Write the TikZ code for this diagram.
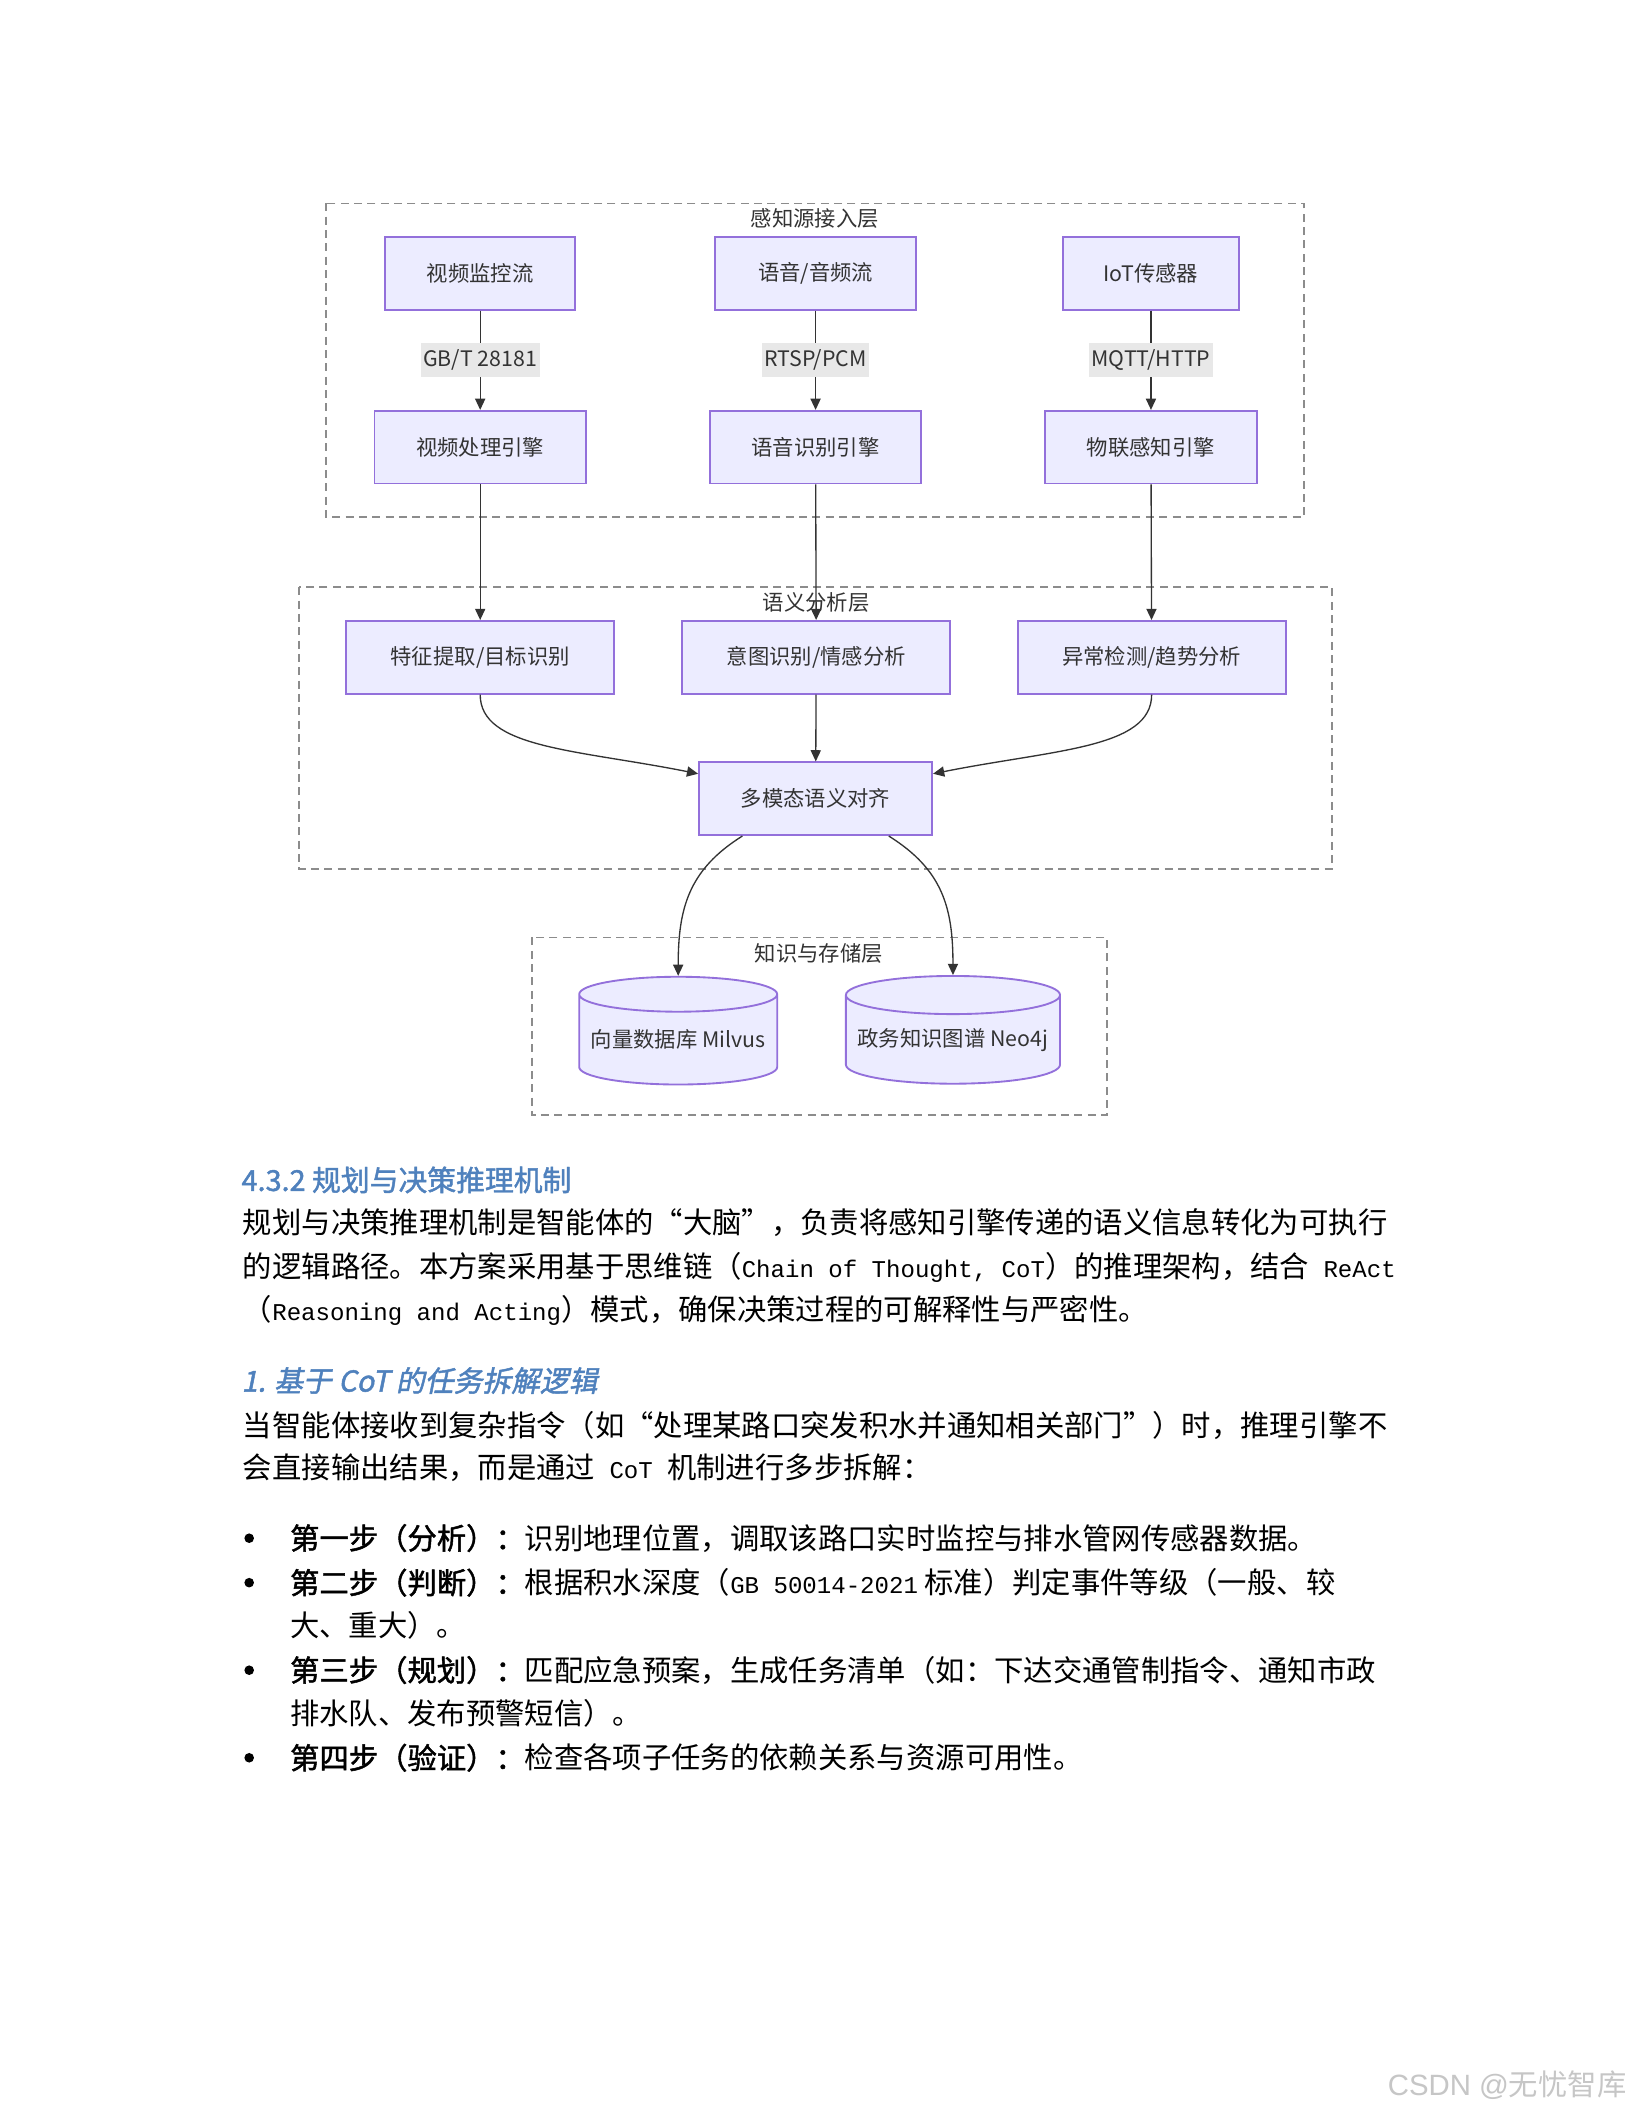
\documentclass[tikz,border=0pt]{standalone}
\usepackage{fontspec}
\setmainfont{Noto Sans CJK SC}
\newfontfamily\latfont{Liberation Mono}[Scale=0.82]
\newfontfamily\headfont{Noto Sans CJK SC}[FakeBold=1.6]
\newfontfamily\headitfont{Noto Sans CJK SC}[FakeBold=1.6,FakeSlant=0.2]
\newfontfamily\wmfont{Liberation Sans}
\usetikzlibrary{arrows.meta,shapes.geometric}
\definecolor{boxFill}{HTML}{ECECFF}
\definecolor{boxDraw}{HTML}{9370DB}
\definecolor{lineGray}{HTML}{333333}
\definecolor{layerGray}{HTML}{8C8C8C}
\definecolor{labelFill}{HTML}{E8E8E8}
\definecolor{headBlue}{HTML}{4F81BD}
\newcommand{\lat}[1]{{\latfont #1}}
\newdimen\px
\px=0.50495pt

\begin{document}
\begin{tikzpicture}[x = \px, y = -\px]
\tikzstyle{boxStyle}=[draw = boxDraw, fill = boxFill, line width = 0.7pt, minimum height = 54\px, inner sep = 0pt, text = lineGray, font = \fontsize{8}{10}\selectfont]
\tikzstyle{dbStyle}=[cylinder, shape border rotate = 90, aspect = 0.2, draw = boxDraw, fill = boxFill, line width = 0.7pt, inner sep = 0pt, text = lineGray, font = \fontsize{8}{10}\selectfont]
\tikzstyle{layerStyle}=[draw = layerGray, dash pattern = on 3pt off 2pt, line width = 0.6pt]
\tikzstyle{titleStyle}=[inner sep = 0pt, text = lineGray, font = \fontsize{8}{10}\selectfont]
\tikzstyle{labelStyle}=[fill = labelFill, inner sep = 1pt, minimum height = 25\px, text = lineGray, font = \fontsize{8}{10}\selectfont]
\tikzstyle{flowStyle}=[draw = lineGray, line width = 0.5pt, -{Triangle[length = 4.2pt, width = 3.8pt]}]
\tikzstyle{bodyStyle}=[anchor = west, inner sep = 0pt, font = \fontsize{11}{13}\selectfont]
\tikzstyle{headStyle}=[anchor = west, inner sep = 0pt, text = headBlue]
\tikzstyle{dotStyle}=[circle, fill = black, inner sep = 0pt, minimum size = 3.6pt]
\fill[white] (0,0) rectangle (1212,1568);
\useasboundingbox (0,0) rectangle (1212,1568);
% layers
\draw[layerStyle] (242,151) rectangle (968,384);
\draw[layerStyle] (222,436) rectangle (989,645);
\draw[layerStyle] (395,696) rectangle (822,828);
\node[titleStyle] (t1) at (605,162) {感知源接入层};
\node[titleStyle] (t2) at (606,447) {语义分析层};
\node[titleStyle] (t3) at (608,708) {知识与存储层};
% nodes
\node[boxStyle, minimum width = 141\px] (s1) at (356.5,203) {视频监控流};
\node[boxStyle, minimum width = 149\px] (s2) at (605.5,203) {语音/音频流};
\node[boxStyle, minimum width = 131\px] (s3) at (854.5,203) {IoT传感器};
\node[boxStyle, minimum width = 157\px] (e1) at (356.5,332) {视频处理引擎};
\node[boxStyle, minimum width = 157\px] (e2) at (605.5,332) {语音识别引擎};
\node[boxStyle, minimum width = 157\px] (e3) at (854.5,332) {物联感知引擎};
\node[boxStyle, minimum width = 199\px] (a1) at (356.5,488) {特征提取/目标识别};
\node[boxStyle, minimum width = 199\px] (a2) at (606,488) {意图识别/情感分析};
\node[boxStyle, minimum width = 199\px] (a3) at (855,488) {异常检测/趋势分析};
\node[boxStyle, minimum width = 173\px] (m) at (605.5,593) {多模态语义对齐};
\node[dbStyle, minimum width = 147\px, minimum height = 80\px] (d1) at (503.5,772) {向量数据库 Milvus};
\node[dbStyle, minimum width = 159\px, minimum height = 80\px] (d2) at (707.5,772) {政务知识图谱 Neo4j};
% edges
\draw[flowStyle] (s1) -- node[labelStyle] (l1) {GB/T 28181} (e1);
\draw[flowStyle] (s2) -- node[labelStyle] (l2) {RTSP/PCM} (e2);
\draw[flowStyle] (s3) -- node[labelStyle] (l3) {MQTT/HTTP} (e3);
\draw[flowStyle] (e1) -- (a1);
\draw[flowStyle] (e2) -- (a2);
\draw[flowStyle] (e3) -- (a3);
\draw[flowStyle] (a1.south) .. controls +(0,40) and +(-90,-18) .. (m.168);
\draw[flowStyle] (a2) -- (m);
\draw[flowStyle] (a3.south) .. controls +(0,40) and +(90,-18) .. (m.12);
\draw[flowStyle] (m.-153) .. controls +(-40,25) and +(0,-50) .. (d1.north);
\draw[flowStyle] (m.-27) .. controls +(40,25) and +(0,-50) .. (d2.north);
% text
\node[headStyle, font = \headfont\fontsize{10.8}{12}\selectfont] (h1) at (179,876) {4.3.2 规划与决策推理机制};
\node[bodyStyle] (p1) at (180,908) {规划与决策推理机制是智能体的“大脑”，负责将感知引擎传递的语义信息转化为可执行};
\node[bodyStyle] (p2) at (180,941) {的逻辑路径。本方案采用基于思维链（\lat{Chain of Thought, CoT}）的推理架构，结合\lat{ ReAct}};
\node[bodyStyle] (p3) at (180,973) {（\lat{Reasoning and Acting}）模式，确保决策过程的可解释性与严密性。};
\node[headStyle, font = \headitfont\fontsize{10.8}{12}\selectfont] (h2) at (179,1025) {1. 基于 CoT 的任务拆解逻辑};
\node[bodyStyle] (q1) at (180,1058) {当智能体接收到复杂指令（如“处理某路口突发积水并通知相关部门”）时，推理引擎不};
\node[bodyStyle] (q2) at (180,1090) {会直接输出结果，而是通过\lat{ CoT }机制进行多步拆解：};
\foreach \y [count = \i] in {1142, 1175, 1240, 1305}
  \node[dotStyle] (k\i) at (185,\y) {};
\node[bodyStyle] (b1) at (215,1142) {{\headfont 第一步（分析）：}识别地理位置，调取该路口实时监控与排水管网传感器数据。};
\node[bodyStyle] (b2) at (215,1175) {{\headfont 第二步（判断）：}根据积水深度（\lat{GB 50014-2021} 标准）判定事件等级（一般、较};
\node[bodyStyle] (b2b) at (215,1207) {大、重大）。};
\node[bodyStyle] (b3) at (215,1240) {{\headfont 第三步（规划）：}匹配应急预案，生成任务清单（如：下达交通管制指令、通知市政};
\node[bodyStyle] (b3b) at (215,1272) {排水队、发布预警短信）。};
\node[bodyStyle] (b4) at (215,1305) {{\headfont 第四步（验证）：}检查各项子任务的依赖关系与资源可用性。};
\node[anchor = west, inner sep = 0pt, text = gray!45, font = \wmfont\fontsize{11}{13}\selectfont] (wm) at (1030,1548) {CSDN @{\normalfont 无忧智库}};
\end{tikzpicture}
\end{document}
